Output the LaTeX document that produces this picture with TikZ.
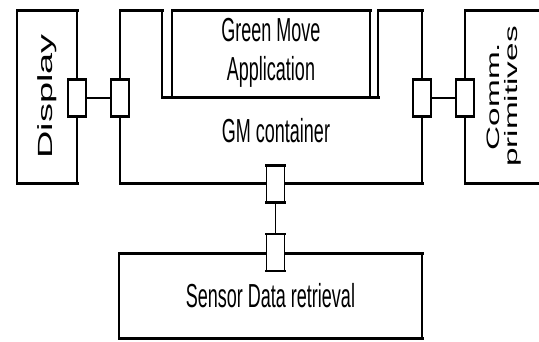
\documentclass[tikz,border=0pt]{standalone}
\usepackage{fontspec}
\usepackage{graphicx}
\usepackage{xcolor}
\setmainfont{Liberation Sans}
\newcommand{\vstretch}[1]{\scalebox{1}[1.85]{#1}}

\begin{document}
\begin{tikzpicture}[x=1pt,y=-1pt,
		thn/.style={line width=1.3pt},
		thk/.style={line width=3pt,line cap=rect},
		blk/.style={draw,thn,fill=white,inner sep=0pt,outer sep=0pt},
		port/.style={draw,thn,fill=white,inner sep=0pt,outer sep=0pt,minimum width=18pt,minimum height=37pt},
		hfont/.style={font=\fontsize{18}{21}\selectfont},
		vfont/.style={font=\fontsize{18}{17}\selectfont}]
	\useasboundingbox (0,0) rectangle (539,341);
	\clip (0,0) rectangle (539,341);

	\node[blk,vfont,font=\fontsize{20.5}{20}\selectfont,minimum width=60pt,minimum height=173pt] (display) at (47,96.5)
		{\vstretch{\rotatebox{90}{Display}}};

	\draw[thn] (120,10) -- (162,10) -- (162,97) -- (378,97) -- (378,10) -- (422,10) -- (422,183) -- (120,183) -- cycle;
	\draw[thk] (120,10) -- (162,10) (378,10) -- (422,10) (162,97) -- (378,97) (120,183) -- (422,183);
	\node[hfont] (gmlabel) at (276,131) {\vstretch{GM container}};

	\node[blk,hfont,minimum width=198pt,minimum height=87pt] (app) at (271,53.5)
		{\vstretch{\begin{tabular}{@{}c@{}}Green Move\\Application\end{tabular}}};

	\node[blk,vfont,minimum width=80pt,minimum height=173pt] (comm) at (505,96.5)
		{\vstretch{\rotatebox{90}{\begin{tabular}{@{}c@{}}Comm.\\primitives\end{tabular}}}};

	\node[blk,hfont,minimum width=303pt,minimum height=85pt] (sensor) at (270.5,295.5)
		{\vstretch{Sensor Data retrieval}};

	\foreach \b in {display,app,comm,sensor}
		\draw[thk] (\b.north west) -- (\b.north east) (\b.south west) -- (\b.south east);

	\node[port] (dispR) at (77,98) {};
	\node[port] (gmL) at (120,98) {};
	\node[port] (gmR) at (422,98) {};
	\node[port] (commL) at (465,98) {};
	\node[port] (gmB) at (275.5,184) {};
	\node[port] (senT) at (275.5,252.5) {};

	\foreach \p in {dispR,gmL,gmR,commL,gmB,senT}
		\draw[thk,line width=2.4pt] (\p.north west) -- (\p.north east) (\p.south west) -- (\p.south east);

	\draw[thn] (dispR) -- (gmL);
	\draw[thn] (gmR) -- (commL);
	\draw[thn] (gmB) -- (senT);
\end{tikzpicture}
\end{document}
